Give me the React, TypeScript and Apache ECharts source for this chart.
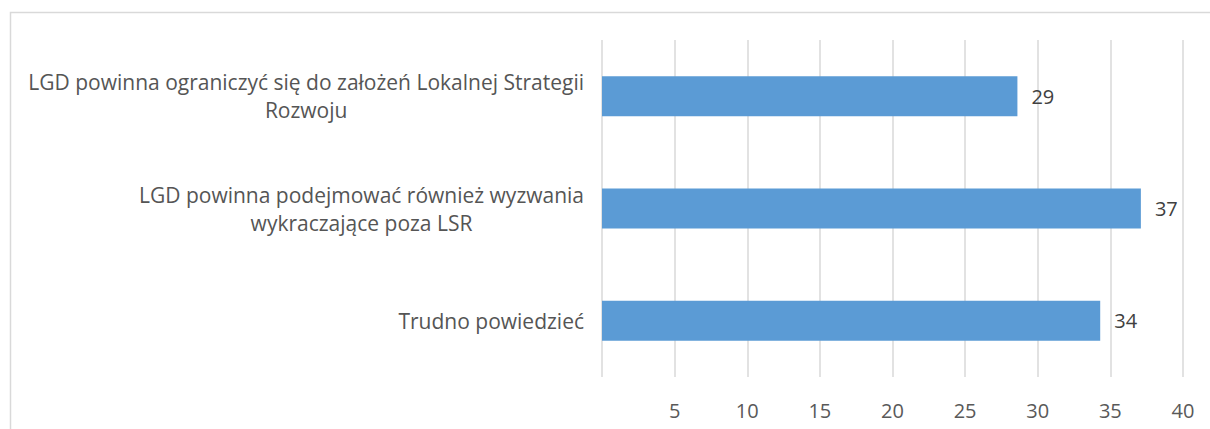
import React, { useEffect, useRef } from "react";
import * as echarts from "echarts";

const categories = [
  "LGD powinna ograniczyć się do założeń Lokalnej Strategii\nRozwoju",
  "LGD powinna podejmować również wyzwania\nwykraczające poza LSR",
  "Trudno powiedzieć",
];
const values = [28.6, 37.1, 34.3];
const xTicks = { min: 0, max: 40, interval: 5 };

const FONT = '"Open Sans", "Noto Sans", sans-serif';
const FS = 21;
const NFS = 20;

function measure(s: string): number {
  const c = document.createElement("canvas");
  const ctx = c.getContext("2d")!;
  ctx.font = `${FS}px "Open Sans"`;
  return ctx.measureText(s).width;
}

export default function App() {
  const ref = useRef<HTMLDivElement>(null);
  useEffect(() => {
    if (!ref.current) return;
    const chart = echarts.init(ref.current, null, { renderer: "svg" });
    const rich: Record<string, any> = {};
    categories.forEach((c, i) => {
      const w = Math.max(...c.split("\n").map(measure)) + 2;
      rich["r" + i] = {
        width: w,
        align: "center",
        fontSize: FS,
        fontFamily: FONT,
        color: "#555555",
        lineHeight: 28,
      };
    });
    chart.setOption({
      animation: false,
      backgroundColor: "#ffffff",
      graphic: [
        {
          type: "rect",
          left: 8,
          top: 10,
          shape: { x: 0, y: 0, width: 1215, height: 440 },
          style: { fill: "none", stroke: "#d9d9d9", lineWidth: 1.5 },
          silent: true,
        },
      ],
      grid: { left: 602, right: 27, top: 40, bottom: 52 },
      xAxis: {
        type: "value",
        min: xTicks.min,
        max: xTicks.max,
        interval: xTicks.interval,
        axisLine: { show: false },
        axisTick: { show: false },
        splitLine: { show: true, lineStyle: { color: "#d9d9d9", width: 1.5 } },
        axisLabel: {
          margin: 23,
          fontSize: NFS,
          fontFamily: FONT,
          color: "#595959",
          formatter: (v: number) => (v === 0 ? "" : String(v)),
        },
      },
      yAxis: {
        type: "category",
        data: categories,
        inverse: true,
        axisLine: { show: false },
        axisTick: { show: false },
        splitLine: { show: false },
        axisLabel: {
          margin: 17,
          formatter: (value: string, idx: number) =>
            value
              .split("\n")
              .map((l) => `{r${idx}|${l}}`)
              .join("\n"),
          rich,
        },
      },
      series: [
        {
          type: "bar",
          data: values,
          barWidth: 40,
          itemStyle: { color: "#5b9bd5" },
          label: {
            show: true,
            position: "right",
            distance: 14,
            fontSize: NFS,
            fontFamily: FONT,
            color: "#404040",
            formatter: (p: any) => String(Math.round(p.value)),
          },
        },
      ],
    });
    return () => chart.dispose();
  }, []);
  return (
    <div
      ref={ref}
      style={{ position: "absolute", left: 0, top: 0, width: 1210, height: 429 }}
    />
  );
}
